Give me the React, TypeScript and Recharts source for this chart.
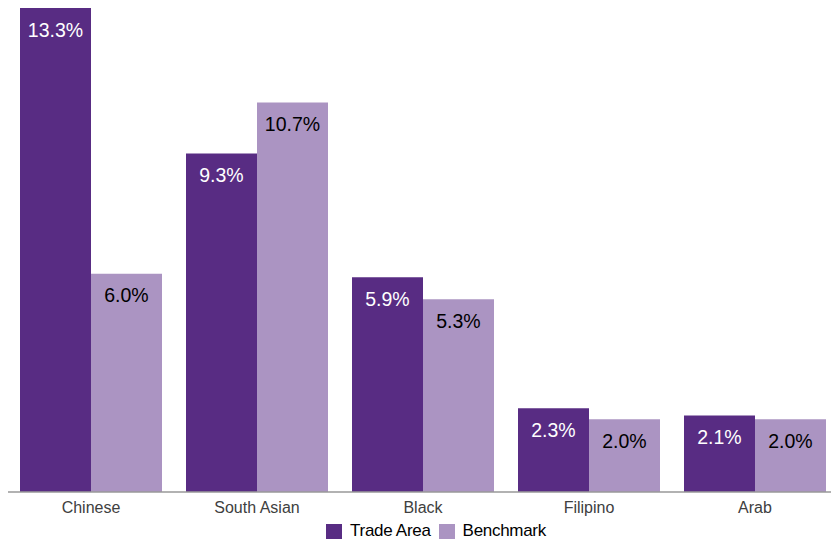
import { BarChart, Bar, XAxis, YAxis, LabelList, Legend } from 'recharts';

const categories = ['Chinese', 'South Asian', 'Black', 'Filipino', 'Arab'];
const tradeArea = [13.3, 9.3, 5.9, 2.3, 2.1];
const benchmark = [6.0, 10.7, 5.3, 2.0, 2.0];

const DARK = '#582c83';
const LIGHT = '#ab94c2';
const FONT = '"Liberation Sans", Arial, sans-serif';

const data = categories.map((name, i) => ({
    name,
    trade: tradeArea[i],
    bench: benchmark[i],
}));

const fmt = (v: any) => `${Number(v).toFixed(1)}%`;

function LegendContent() {
    const items = [
        { label: 'Trade Area', color: DARK },
        { label: 'Benchmark', color: LIGHT },
    ];
    return (
        <div style={{ display: 'flex', justifyContent: 'center', gap: 8, fontFamily: FONT, fontSize: 17, color: '#000', paddingLeft: 26, paddingTop: 7 }}>
            {items.map((item) => (
                <div key={item.label} style={{ display: 'flex', alignItems: 'center', gap: 8 }}>
                    <div style={{ width: 16, height: 15, backgroundColor: item.color }}></div>
                    <span style={{ letterSpacing: -0.3 }}>{item.label}</span>
                </div>
            ))}
        </div>
    );
}

function App() {
    return (
        <div style={{ position: 'absolute', left: 0, top: 0, width: 831, height: 540, overflow: 'hidden', background: '#fff' }}>
            <BarChart
                width={840}
                height={540}
                data={data}
                margin={{ top: 8, right: 2, left: 8, bottom: 0 }}
                barCategoryGap={12}
                barGap={0}
            >
                <XAxis
                    dataKey="name"
                    tickLine={false}
                    axisLine={{ stroke: '#999999', strokeWidth: 1.5 }}
                    tick={{ fill: '#404040', fontSize: 16, fontFamily: FONT }}
                    tickSize={8}
                    interval={0}
                    height={22}
                />
                <YAxis hide domain={[0, 13.3]} />
                <Legend verticalAlign="bottom" height={26} content={<LegendContent />} />
                <Bar dataKey="trade" fill={DARK} isAnimationActive={false}>
                    <LabelList dataKey="trade" position="insideTop" offset={15} formatter={fmt}
                        style={{ fill: '#fff', fontSize: 19.5, fontFamily: FONT }} />
                </Bar>
                <Bar dataKey="bench" fill={LIGHT} isAnimationActive={false}>
                    <LabelList dataKey="bench" position="insideTop" offset={15} formatter={fmt}
                        style={{ fill: '#000', fontSize: 19.5, fontFamily: FONT }} />
                </Bar>
            </BarChart>
        </div>
    );
}

export default App;
